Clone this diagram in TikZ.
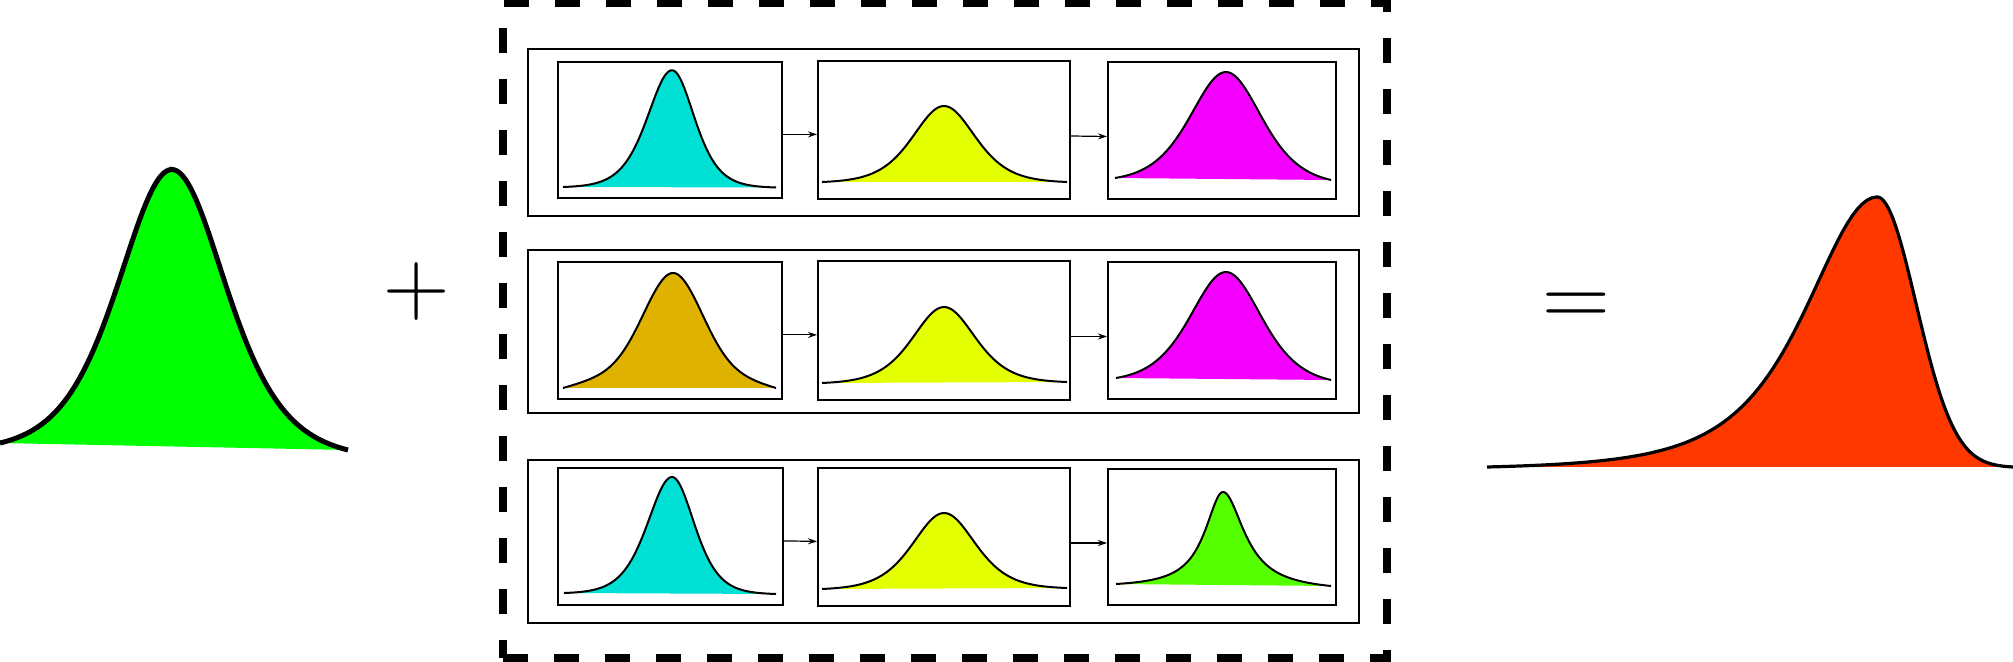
\documentclass[tikz,border=0pt]{standalone}
\usetikzlibrary{arrows.meta}
\definecolor{bgreen}{RGB}{0,255,0}
\definecolor{bred}{RGB}{255,56,0}
\definecolor{ccyan}{RGB}{0,224,212}
\definecolor{cyell}{RGB}{228,255,0}
\definecolor{cmag}{RGB}{243,0,255}
\definecolor{cgold}{RGB}{223,178,0}
\definecolor{clime}{RGB}{85,255,0}

\pgfmathdeclarefunction{sechsq}{1}{\pgfmathparse{4/(exp(#1)+exp(-#1))^2}}
\pgfmathdeclarefunction{cauchy}{1}{\pgfmathparse{1/(1+(#1)^2)}}
\pgfmathdeclarefunction{cauchysq}{1}{\pgfmathparse{1/(1+(#1)^2)^2}}
\pgfmathdeclarefunction{gauss}{1}{\pgfmathparse{exp(-0.5*(#1)^2)}}
\pgfmathdeclarefunction{fcyL}{1}{\pgfmathparse{sechsq(#1/33)}}
\pgfmathdeclarefunction{fcyR}{1}{\pgfmathparse{sechsq(#1/30)}}
\pgfmathdeclarefunction{fye}{1}{\pgfmathparse{sechsq(#1/42)}}
\pgfmathdeclarefunction{fmg}{1}{\pgfmathparse{sechsq(#1/48)}}
\pgfmathdeclarefunction{fgo}{1}{\pgfmathparse{0.75*exp(-0.5*(#1/29)^2)+0.25*max(0,1-(10*sqrt((#1/10)^2+1)-10)/102)}}
\pgfmathdeclarefunction{fliL}{1}{\pgfmathparse{cauchy(#1/22)}}
\pgfmathdeclarefunction{fliR}{1}{\pgfmathparse{cauchy(#1/26)}}
\pgfmathdeclarefunction{fgrn}{1}{\pgfmathparse{sechsq(#1/72)}}
\pgfmathdeclarefunction{fredL}{1}{\pgfmathparse{cauchysq(#1/130)}}
\pgfmathdeclarefunction{fredR}{1}{\pgfmathparse{gauss(#1/39)}}

% #1 x0, #2 y0, #3 x1, #4 y1, #5 peak x, #6 height, #7 left fn, #8 right fn, #9 fill colour
\newcommand{\bell}[9]{%
  \pgfmathsetmacro{\geL}{#7(#5-#1)}%
  \pgfmathsetmacro{\geR}{#8(#3-#5)}%
  \fill[#9] plot[domain=#1:#5,samples=80] (\x,{#2+(#4-#2)*(\x-#1)/(#3-#1)-#6*(#7(#5-\x)-\geL)/(1-\geL)})
    -- plot[domain=#5:#3,samples=80] (\x,{#2+(#4-#2)*(\x-#1)/(#3-#1)-#6*(#8(\x-#5)-\geR)/(1-\geR)}) -- cycle;
  \draw[bellline] plot[domain=#1:#5,samples=80] (\x,{#2+(#4-#2)*(\x-#1)/(#3-#1)-#6*(#7(#5-\x)-\geL)/(1-\geL)})
    -- plot[domain=#5:#3,samples=80] (\x,{#2+(#4-#2)*(\x-#1)/(#3-#1)-#6*(#8(\x-#5)-\geR)/(1-\geR)});
}

\tikzset{
  frame/.style={draw, line width=4pt, dash pattern=on 12.5pt off 13pt, inner sep=0pt},
  rowbox/.style={draw, line width=0.6pt, inner sep=0pt},
  plotbox/.style={draw, line width=1pt, inner sep=0pt},
  conn/.style={line width=0.6pt, -{Stealth[length=4.5pt,width=3pt,inset=1.5pt]}},
  bellline/.style={line width=1pt, line join=round},
  sign/.style={inner sep=0pt, anchor=base},
}

\begin{document}
\begin{tikzpicture}[x=0.5pt,y=-0.5pt]
\useasboundingbox (0,0) rectangle (2013,662);

% dashed frame
\node[frame, minimum width=442pt, minimum height=327.5pt] (frame) at (945,330.5) {};

% row boxes
\node[rowbox, minimum width=415.5pt, minimum height=83.5pt] (R1) at (943.5,132.5) {};
\node[rowbox, minimum width=415.5pt, minimum height=81.5pt] (R2) at (943.5,331.5) {};
\node[rowbox, minimum width=415.5pt, minimum height=81.5pt] (R3) at (943.5,541.5) {};

% plot boxes
\node[plotbox, minimum width=112pt, minimum height=68pt] (A1) at (670,130) {};
\node[plotbox, minimum width=126pt, minimum height=69pt] (B1) at (944,130) {};
\node[plotbox, minimum width=114pt, minimum height=68.5pt] (C1) at (1222,130.5) {};
\node[plotbox, minimum width=112pt, minimum height=68.5pt] (A2) at (670,330.5) {};
\node[plotbox, minimum width=126pt, minimum height=69.5pt] (B2) at (944,330.5) {};
\node[plotbox, minimum width=114pt, minimum height=68.5pt] (C2) at (1222,330.5) {};
\node[plotbox, minimum width=112.5pt, minimum height=68.5pt] (A3) at (670.5,536.5) {};
\node[plotbox, minimum width=126pt, minimum height=69pt] (B3) at (944,537) {};
\node[plotbox, minimum width=114pt, minimum height=68pt] (C3) at (1222,537) {};

% connectors
\draw[conn] ([yshift=-2.2pt]A1.east) -- ([yshift=-2.2pt]B1.west);
\draw[conn] ([yshift=-3pt]B1.east) -- ([yshift=-3pt]C1.west);
\draw[conn] ([yshift=-2.2pt]A2.east) -- ([yshift=-2.2pt]B2.west);
\draw[conn] ([yshift=-3pt]B2.east) -- ([yshift=-3pt]C2.west);
\draw[conn] ([yshift=-2.2pt]A3.east) -- ([yshift=-2.2pt]B3.west);
\draw[conn] ([yshift=-3pt]B3.east) -- ([yshift=-3pt]C3.west);

% small curves
\bell{563}{187}{776}{187.5}{672}{117}{fcyL}{fcyR}{ccyan}
\bell{822}{182}{1067}{182}{944}{76}{fye}{fye}{cyell}
\bell{1115}{178}{1331}{180}{1226}{107}{fmg}{fmg}{cmag}
\bell{563}{388}{776}{388}{673}{115}{fgo}{fgo}{cgold}
\bell{822}{383}{1067}{382}{944}{75.5}{fye}{fye}{cyell}
\bell{1116}{378}{1331}{380}{1226}{107}{fmg}{fmg}{cmag}
\bell{564}{593}{776}{594}{672}{116.5}{fcyL}{fcyR}{ccyan}
\bell{822}{589}{1067}{588}{944}{75.5}{fye}{fye}{cyell}
\bell{1116}{584}{1331}{586}{1223}{93}{fliL}{fliR}{clime}

% big curves
\begin{scope}[bellline/.style={line width=2.5pt}]
\bell{0}{443}{348}{450}{172}{277}{fgrn}{fgrn}{bgreen}
\end{scope}
\begin{scope}[bellline/.style={line width=1.6pt, line join=round}]
\bell{1487}{467}{2013}{467}{1877}{270}{fredL}{fredR}{bred}
\end{scope}

% signs
\node[sign, font=\fontsize{46}{50}\selectfont] (plus) at (417,315) {+};
\node[sign, font=\fontsize{47}{50}\selectfont] (eq) at (1576.5,326.5) {=};
\end{tikzpicture}
\end{document}
